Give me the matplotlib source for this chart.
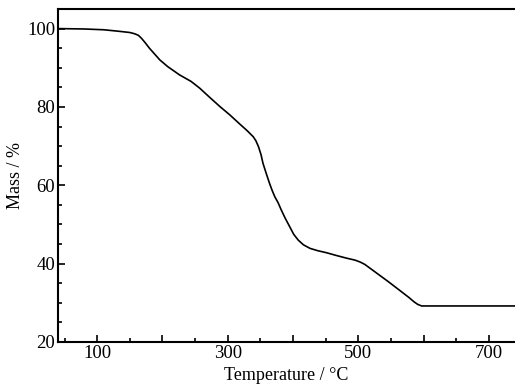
import matplotlib
matplotlib.use("Agg")
import matplotlib.pyplot as plt
from matplotlib.ticker import MultipleLocator, FixedLocator

# TGA curve
temperature = [40, 80, 110, 134, 150, 157, 163, 168, 174, 180, 188, 196, 208, 226, 244, 257,
               272, 288, 303, 318, 330, 339, 343, 347, 351, 354, 359, 364, 368, 372, 377,
               382, 388, 395, 401, 408, 416, 426, 438, 451, 466, 482, 495, 503, 510, 528,
               546, 564, 578, 585, 591, 597, 620, 680, 740]
mass = [100.0, 99.9, 99.7, 99.3, 99.0, 98.7, 98.3, 97.5, 96.3, 95.0, 93.5, 92.0, 90.3, 88.2,
        86.5, 84.8, 82.5, 80.1, 78.0, 75.7, 73.9, 72.4, 71.4, 69.9, 67.8, 65.6, 63.0,
        60.5, 58.7, 57.1, 55.6, 53.7, 51.6, 49.4, 47.5, 46.0, 44.8, 43.9, 43.3, 42.8,
        42.1, 41.4, 40.9, 40.4, 39.8, 37.6, 35.4, 33.1, 31.3, 30.3, 29.6, 29.2, 29.2,
        29.2, 29.2]

x_labels = {100: "100", 200: "", 300: "300", 400: "", 500: "500", 600: "", 700: "700"}

plt.rcParams['font.family'] = ['Liberation Serif', 'DejaVu Serif']

fig = plt.figure(figsize=(5.15, 3.84), dpi=100)
ax = fig.add_axes([58 / 515, 1 - 342 / 384, 1 - 58 / 515, (342 - 9) / 384])

ax.plot(temperature, mass, color='black', lw=1.2, solid_joinstyle='round')

ax.set_xlim(40, 740)
ax.set_ylim(20, 105)

ax.xaxis.set_major_locator(FixedLocator(list(x_labels.keys())))
ax.set_xticklabels(list(x_labels.values()))
ax.xaxis.set_minor_locator(MultipleLocator(50))
ax.yaxis.set_major_locator(FixedLocator([20, 40, 60, 80, 100]))
ax.yaxis.set_minor_locator(MultipleLocator(5))

ax.tick_params(which='both', direction='in', width=1.2, labelsize=13.5, top=False, right=False)
ax.tick_params(which='major', length=5, pad=2)
ax.tick_params(which='minor', length=3)

for side in ['left', 'bottom', 'top']:
    ax.spines[side].set_linewidth(1.5)
ax.spines['right'].set_visible(False)

ax.set_xlabel("Temperature / °C", fontsize=13, labelpad=4)
ax.set_ylabel("Mass / %", fontsize=13, labelpad=2)

fig.savefig("out.png", dpi=100)
